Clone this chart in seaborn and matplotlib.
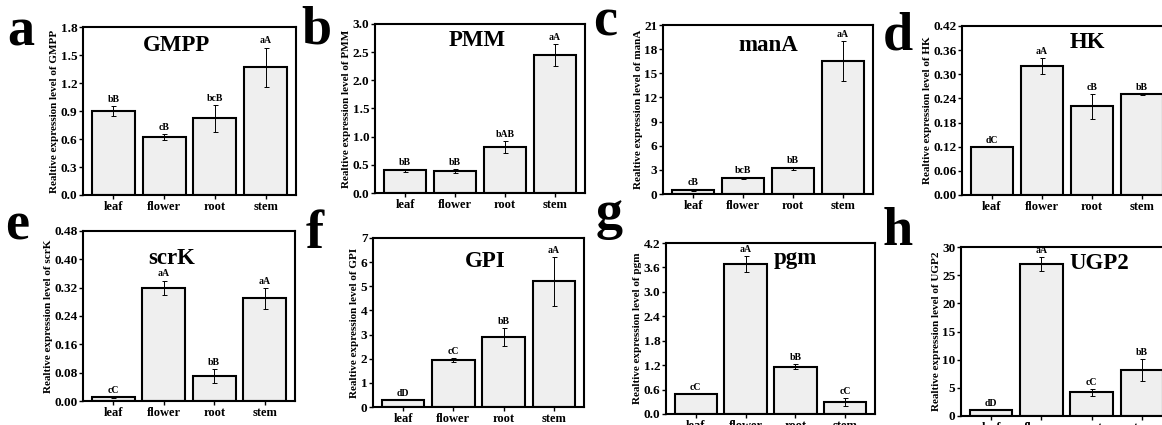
import matplotlib
matplotlib.use("Agg")
import matplotlib.pyplot as plt
import seaborn as sns
import pandas as pd

sns.set_theme(style="white")
plt.rcParams['font.family'] = ['Liberation Serif', 'DejaVu Serif']
plt.rcParams['font.weight'] = 'bold'
plt.rcParams['text.color'] = 'black'
plt.rcParams['axes.labelcolor'] = 'black'
plt.rcParams['xtick.color'] = 'black'
plt.rcParams['ytick.color'] = 'black'

categories = ["leaf", "flower", "root", "stem"]

genes = ["GMPP", "PMM", "manA", "HK", "scrK", "GPI", "pgm", "UGP2"]
panel_letters = ["a", "b", "c", "d", "e", "f", "g", "h"]

gmpp_vals = [0.90, 0.62, 0.82, 1.37]
gmpp_err = [0.05, 0.03, 0.14, 0.21]
gmpp_sig = ["bB", "cB", "bcB", "aA"]

pmm_vals = [0.40, 0.39, 0.82, 2.45]
pmm_err = [0.02, 0.03, 0.11, 0.19]
pmm_sig = ["bB", "bB", "bAB", "aA"]

mana_vals = [0.5, 1.95, 3.2, 16.5]
mana_err = [0.1, 0.1, 0.2, 2.5]
mana_sig = ["cB", "bcB", "bB", "aA"]

hk_vals = [0.12, 0.32, 0.22, 0.25]
hk_err = [0.0, 0.02, 0.03, 0.002]
hk_sig = ["dC", "aA", "cB", "bB"]

scrk_vals = [0.01, 0.32, 0.07, 0.29]
scrk_err = [0.002, 0.02, 0.02, 0.03]
scrk_sig = ["cC", "aA", "bB", "aA"]

gpi_vals = [0.3, 1.95, 2.9, 5.2]
gpi_err = [0.0, 0.07, 0.38, 1.0]
gpi_sig = ["dD", "cC", "bB", "aA"]

pgm_vals = [0.48, 3.68, 1.16, 0.29]
pgm_err = [0.0, 0.2, 0.06, 0.1]
pgm_sig = ["cC", "aA", "bB", "cC"]

ugp2_vals = [1.0, 27.0, 4.2, 8.2]
ugp2_err = [0.0, 1.2, 0.6, 1.9]
ugp2_sig = ["dD", "aA", "cC", "bB"]

gmpp_ticks = [0.0, 0.3, 0.6, 0.9, 1.2, 1.5, 1.8]
pmm_ticks = [0.0, 0.5, 1.0, 1.5, 2.0, 2.5, 3.0]
mana_ticks = [0, 3, 6, 9, 12, 15, 18, 21]
hk_ticks = [0.00, 0.06, 0.12, 0.18, 0.24, 0.30, 0.36, 0.42]
scrk_ticks = [0.00, 0.08, 0.16, 0.24, 0.32, 0.40, 0.48]
gpi_ticks = [0, 1, 2, 3, 4, 5, 6, 7]
pgm_ticks = [0.0, 0.6, 1.2, 1.8, 2.4, 3.0, 3.6, 4.2]
ugp2_ticks = [0, 5, 10, 15, 20, 25, 30]

all_vals = [gmpp_vals, pmm_vals, mana_vals, hk_vals, scrk_vals, gpi_vals, pgm_vals, ugp2_vals]
all_err = [gmpp_err, pmm_err, mana_err, hk_err, scrk_err, gpi_err, pgm_err, ugp2_err]
all_sig = [gmpp_sig, pmm_sig, mana_sig, hk_sig, scrk_sig, gpi_sig, pgm_sig, ugp2_sig]
all_ticks = [gmpp_ticks, pmm_ticks, mana_ticks, hk_ticks, scrk_ticks, gpi_ticks, pgm_ticks, ugp2_ticks]
tick_fmt = ["{:.1f}", "{:.1f}", "{:d}", "{:.2f}", "{:.2f}", "{:d}", "{:.1f}", "{:d}"]

W, H = 1162, 425
# axes boxes in pixels: left, right, top, bottom
boxes = [
    (83, 296, 27, 195),
    (375, 585, 24, 193),
    (663, 873, 25, 194),
    (962, 1172, 26, 195),
    (83, 295, 231, 401),
    (373, 584, 238, 407),
    (666, 875, 243, 414),
    (961, 1172, 247, 416),
]
title_pos = [(0.44, 0.89), (0.486, 0.905), (0.50, 0.88), (0.595, 0.905),
             (0.42, 0.84), (0.53, 0.86), (0.62, 0.91), (0.655, 0.905)]
letter_pos = [(7, 45), (301, 43), (593, 35), (883, 50),
              (5, 240), (306, 248), (596, 228), (883, 245)]

fig = plt.figure(figsize=(W / 100, H / 100), dpi=100)

for i in range(8):
    l, r, t, b = boxes[i]
    ax = fig.add_axes([l / W, 1 - b / H, (r - l) / W, (b - t) / H])
    df = pd.DataFrame({"tissue": categories, "value": all_vals[i]})
    sns.barplot(data=df, x="tissue", y="value", ax=ax, color="#efefef",
                edgecolor="black", linewidth=1.5, width=0.85, errorbar=None,
                saturation=1)
    ax.errorbar(range(len(categories)), all_vals[i], yerr=all_err[i], fmt="none",
                ecolor="black", elinewidth=0.7, capsize=1.8, capthick=0.7)
    for j, lab in enumerate(all_sig[i]):
        ax.annotate(lab, (j, all_vals[i][j] + all_err[i][j]), xytext=(0, 1.5),
                    textcoords="offset points", ha="center", va="bottom",
                    fontsize=7, fontweight="bold")
    ticks = all_ticks[i]
    ax.set_ylim(ticks[0], ticks[-1])
    ax.set_xlim(-0.6, 3.6)
    ax.set_yticks(ticks)
    ax.set_yticklabels([tick_fmt[i].format(v) for v in ticks], fontsize=9.5, fontweight="bold")
    ax.set_xticks(range(len(categories)))
    ax.set_xticklabels(categories, fontsize=9, fontweight="bold")
    ax.set_xlabel("")
    ax.set_ylabel("Realtive expression level of " + genes[i], fontsize=8,
                  fontweight="bold", labelpad=1)
    ax.tick_params(axis="both", direction="out", length=3, width=1, pad=1,
                   left=True, bottom=True, colors="black")
    for s in ax.spines.values():
        s.set_color("black")
        s.set_linewidth(1.5)
    ax.text(title_pos[i][0], title_pos[i][1], genes[i], transform=ax.transAxes,
            ha="center", va="center", fontsize=16.5, fontweight="bold", color="black")
    fig.text(letter_pos[i][0] / W, 1 - letter_pos[i][1] / H, panel_letters[i],
             ha="left", va="baseline", fontsize=39, fontweight="bold", color="black")

fig.savefig("out.png", dpi=100, facecolor="white")
